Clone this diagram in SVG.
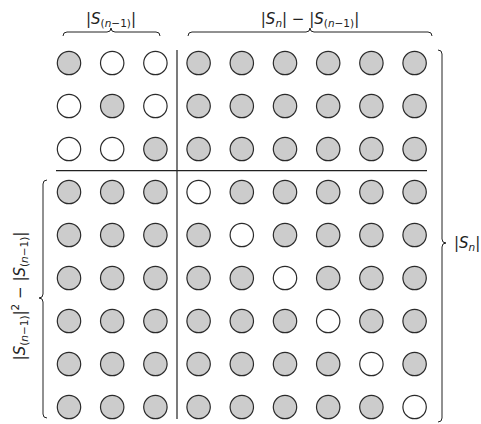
<svg xmlns="http://www.w3.org/2000/svg" width="481" height="424" viewBox="0 0 481 424">
<style>
.g{fill:#cccccc;stroke:#2a2a2a;stroke-width:1.2}
.w{fill:#fff;stroke:#2a2a2a;stroke-width:1.2}
.ln{stroke:#222;stroke-width:1.2;fill:none}
.br{stroke:#222;stroke-width:1;fill:none}
text{font-family:"DejaVu Sans","Liberation Sans",sans-serif;font-size:15px;fill:#222}
.it{font-style:italic}
.sb{font-size:10.5px}
</style>
<rect width="481" height="424" fill="#fff"/>
<g id="grid">
<!-- row 0 -->
<circle class="g" cx="69" cy="63" r="11.7"/><circle class="w" cx="112.2" cy="63" r="11.7"/><circle class="w" cx="155.4" cy="63" r="11.7"/>
<circle class="g" cx="198.6" cy="63" r="11.7"/><circle class="g" cx="241.8" cy="63" r="11.7"/><circle class="g" cx="285" cy="63" r="11.7"/><circle class="g" cx="328.2" cy="63" r="11.7"/><circle class="g" cx="371.4" cy="63" r="11.7"/><circle class="g" cx="414.6" cy="63" r="11.7"/>
<!-- row 1 -->
<circle class="w" cx="69" cy="106" r="11.7"/><circle class="g" cx="112.2" cy="106" r="11.7"/><circle class="w" cx="155.4" cy="106" r="11.7"/>
<circle class="g" cx="198.6" cy="106" r="11.7"/><circle class="g" cx="241.8" cy="106" r="11.7"/><circle class="g" cx="285" cy="106" r="11.7"/><circle class="g" cx="328.2" cy="106" r="11.7"/><circle class="g" cx="371.4" cy="106" r="11.7"/><circle class="g" cx="414.6" cy="106" r="11.7"/>
<!-- row 2 -->
<circle class="w" cx="69" cy="149" r="11.7"/><circle class="w" cx="112.2" cy="149" r="11.7"/><circle class="g" cx="155.4" cy="149" r="11.7"/>
<circle class="g" cx="198.6" cy="149" r="11.7"/><circle class="g" cx="241.8" cy="149" r="11.7"/><circle class="g" cx="285" cy="149" r="11.7"/><circle class="g" cx="328.2" cy="149" r="11.7"/><circle class="g" cx="371.4" cy="149" r="11.7"/><circle class="g" cx="414.6" cy="149" r="11.7"/>
<!-- row 3 -->
<circle class="g" cx="69" cy="192" r="11.7"/><circle class="g" cx="112.2" cy="192" r="11.7"/><circle class="g" cx="155.4" cy="192" r="11.7"/>
<circle class="w" cx="198.6" cy="192" r="11.7"/><circle class="g" cx="241.8" cy="192" r="11.7"/><circle class="g" cx="285" cy="192" r="11.7"/><circle class="g" cx="328.2" cy="192" r="11.7"/><circle class="g" cx="371.4" cy="192" r="11.7"/><circle class="g" cx="414.6" cy="192" r="11.7"/>
<!-- row 4 -->
<circle class="g" cx="69" cy="235" r="11.7"/><circle class="g" cx="112.2" cy="235" r="11.7"/><circle class="g" cx="155.4" cy="235" r="11.7"/>
<circle class="g" cx="198.6" cy="235" r="11.7"/><circle class="w" cx="241.8" cy="235" r="11.7"/><circle class="g" cx="285" cy="235" r="11.7"/><circle class="g" cx="328.2" cy="235" r="11.7"/><circle class="g" cx="371.4" cy="235" r="11.7"/><circle class="g" cx="414.6" cy="235" r="11.7"/>
<!-- row 5 -->
<circle class="g" cx="69" cy="278" r="11.7"/><circle class="g" cx="112.2" cy="278" r="11.7"/><circle class="g" cx="155.4" cy="278" r="11.7"/>
<circle class="g" cx="198.6" cy="278" r="11.7"/><circle class="g" cx="241.8" cy="278" r="11.7"/><circle class="w" cx="285" cy="278" r="11.7"/><circle class="g" cx="328.2" cy="278" r="11.7"/><circle class="g" cx="371.4" cy="278" r="11.7"/><circle class="g" cx="414.6" cy="278" r="11.7"/>
<!-- row 6 -->
<circle class="g" cx="69" cy="321" r="11.7"/><circle class="g" cx="112.2" cy="321" r="11.7"/><circle class="g" cx="155.4" cy="321" r="11.7"/>
<circle class="g" cx="198.6" cy="321" r="11.7"/><circle class="g" cx="241.8" cy="321" r="11.7"/><circle class="g" cx="285" cy="321" r="11.7"/><circle class="w" cx="328.2" cy="321" r="11.7"/><circle class="g" cx="371.4" cy="321" r="11.7"/><circle class="g" cx="414.6" cy="321" r="11.7"/>
<!-- row 7 -->
<circle class="g" cx="69" cy="364" r="11.7"/><circle class="g" cx="112.2" cy="364" r="11.7"/><circle class="g" cx="155.4" cy="364" r="11.7"/>
<circle class="g" cx="198.6" cy="364" r="11.7"/><circle class="g" cx="241.8" cy="364" r="11.7"/><circle class="g" cx="285" cy="364" r="11.7"/><circle class="g" cx="328.2" cy="364" r="11.7"/><circle class="w" cx="371.4" cy="364" r="11.7"/><circle class="g" cx="414.6" cy="364" r="11.7"/>
<!-- row 8 -->
<circle class="g" cx="69" cy="407" r="11.7"/><circle class="g" cx="112.2" cy="407" r="11.7"/><circle class="g" cx="155.4" cy="407" r="11.7"/>
<circle class="g" cx="198.6" cy="407" r="11.7"/><circle class="g" cx="241.8" cy="407" r="11.7"/><circle class="g" cx="285" cy="407" r="11.7"/><circle class="g" cx="328.2" cy="407" r="11.7"/><circle class="g" cx="371.4" cy="407" r="11.7"/><circle class="w" cx="414.6" cy="407" r="11.7"/>
</g>
<g id="dividers">
<line class="ln" x1="177" y1="50" x2="177" y2="419"/>
<line class="ln" x1="56" y1="170.7" x2="427" y2="170.7"/>
</g>
<g id="braces">
<path class="br" d="M63,36 Q63,32 67,32 L107,32 Q111,32 111,28 Q111,32 115,32 L156,32 Q160,32 160,36"/>
<path class="br" d="M188,36 Q188,32 192,32 L306,32 Q310,32 310,28 Q310,32 314,32 L428,32 Q432,32 432,36"/>
<path class="br" d="M438,50 Q442,50 442,54 L442,239 Q442,243 446,243 Q442,243 442,247 L442,418 Q442,422 438,422"/>
<path class="br" d="M47,180 Q43,180 43,184 L43,294 Q43,298 39,298 Q43,298 43,302 L43,414 Q43,418 47,418"/>
</g>
<g id="labels">
<text x="111" y="24" text-anchor="middle">|<tspan class="it">S</tspan><tspan class="sb" dy="3">(<tspan class="it">n</tspan>−1)</tspan><tspan dy="-3">|</tspan></text>
<text x="310" y="24" text-anchor="middle">|<tspan class="it">S</tspan><tspan class="sb it" dy="3">n</tspan><tspan dy="-3">| − |</tspan><tspan class="it">S</tspan><tspan class="sb" dy="3">(<tspan class="it">n</tspan>−1)</tspan><tspan dy="-3">|</tspan></text>
<text x="454" y="248">|<tspan class="it">S</tspan><tspan class="sb it" dy="3">n</tspan><tspan dy="-3">|</tspan></text>
<text transform="translate(25,296) rotate(-90)" text-anchor="middle">|<tspan class="it">S</tspan><tspan class="sb" dy="3">(<tspan class="it">n</tspan>−1)</tspan><tspan dy="-3">|</tspan><tspan class="sb" dy="-6">2</tspan><tspan dy="6"> − |</tspan><tspan class="it">S</tspan><tspan class="sb" dy="3">(<tspan class="it">n</tspan>−1)</tspan><tspan dy="-3">|</tspan></text>
</g>
</svg>
